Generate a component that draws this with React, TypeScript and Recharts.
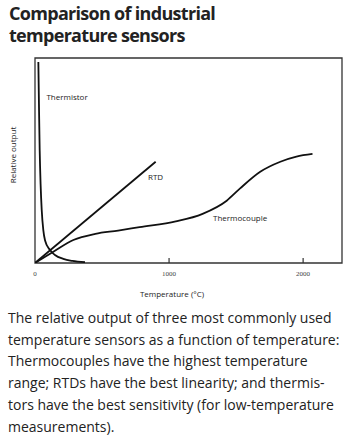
import React from 'react';
import { LineChart, Line, XAxis, YAxis, ReferenceArea, ReferenceDot } from 'recharts';

// temperature (°C) / relative output (0-100)
const thermistor = [
  { t: 25, v: 98 }, { t: 30, v: 75 }, { t: 35, v: 55 }, { t: 42, v: 38 },
  { t: 50, v: 26 }, { t: 62, v: 16 }, { t: 75, v: 11 }, { t: 112, v: 6.3 },
  { t: 149, v: 3.9 }, { t: 211, v: 2 }, { t: 279, v: 1 }, { t: 373, v: 0.4 },
];

const rtd = [
  { t: 0, v: 0 }, { t: 900, v: 49.4 },
];

const thermocouple = [
  { t: 0, v: 0 }, { t: 137, v: 5.5 }, { t: 286, v: 11.2 }, { t: 450, v: 14.2 },
  { t: 620, v: 15.8 }, { t: 780, v: 17.5 }, { t: 1050, v: 20.3 }, { t: 1250, v: 24 },
  { t: 1430, v: 30.4 }, { t: 1530, v: 36.4 }, { t: 1680, v: 44.5 }, { t: 1830, v: 49.4 },
  { t: 1950, v: 51.9 }, { t: 2070, v: 53.2 },
];

const xTicks = [0, 1000, 2000];
const xMax = 2290;

const curveLabels = [
  { name: 'Thermistor', t: 239, v: 81 },
  { name: 'RTD', t: 899, v: 42 },
  { name: 'Thermocouple', t: 1530, v: 22 },
];

const sans = '"Open Sans", "Noto Sans", sans-serif';

const TempTick = (props: any) => {
  const { x, y, payload } = props;
  return (
    <g>
      {payload.value !== 0 && <line x1={x} x2={x} y1={y} y2={y - 5} stroke="#333" strokeWidth={1.2} />}
      <text x={x} y={y + 13} textAnchor="middle" fontSize={7} fontFamily='"Liberation Serif", serif' fill="#444">
        {payload.value}
      </text>
    </g>
  );
};

const App: React.FC = () => {
  return (
    <div style={{ position: 'absolute', left: 0, top: 0, width: 350, height: 439, background: '#fff', fontFamily: sans }}>
      <div style={{ position: 'absolute', left: 9, top: 2, fontSize: 18, fontWeight: 700, lineHeight: '22px', color: '#222', letterSpacing: -0.7 }}>
        Comparison of industrial<br />temperature sensors
      </div>

      <div style={{ position: 'absolute', left: 0, top: 0 }}>
        <LineChart width={350} height={300} margin={{ top: 58, right: 8, bottom: 0, left: 35 }}>
          <XAxis
            type="number"
            dataKey="t"
            domain={[0, xMax]}
            ticks={xTicks}
            allowDataOverflow
            axisLine={false}
            tickLine={false}
            tickSize={0}
            tickMargin={0}
            height={37}
            tick={<TempTick />}
          />
          <YAxis type="number" domain={[0, 100]} hide allowDataOverflow />
          <ReferenceArea x1={0} x2={xMax} y1={0} y2={100} fill="none" stroke="#333" strokeWidth={1.3} />
          <Line data={thermistor} dataKey="v" type="monotone" stroke="#111" strokeWidth={1.8} dot={false} isAnimationActive={false} />
          <Line data={rtd} dataKey="v" type="linear" stroke="#111" strokeWidth={1.8} dot={false} isAnimationActive={false} />
          <Line data={thermocouple} dataKey="v" type="monotone" stroke="#111" strokeWidth={1.8} dot={false} isAnimationActive={false} />
          {curveLabels.map((c) => (
            <ReferenceDot
              key={c.name}
              x={c.t}
              y={c.v}
              r={0}
              stroke="none"
              label={{ value: c.name, position: 'center', fontSize: 8, fill: '#222', fontFamily: sans }}
            />
          ))}
        </LineChart>
      </div>

      <div style={{ position: 'absolute', left: 172, top: 288, fontSize: 8, color: '#222', whiteSpace: 'nowrap', transform: 'translateX(-50%)' }}>
        Temperature (°C)
      </div>
      <div style={{ position: 'absolute', left: 12, top: 155, fontSize: 8, color: '#222', whiteSpace: 'nowrap', transform: 'translate(-50%, -50%) rotate(-90deg)' }}>
        Relative output
      </div>

      <div style={{ position: 'absolute', left: 8, top: 307, width: 340, fontSize: 14, lineHeight: '21.7px', color: '#222' }}>
        The relative output of three most commonly used<br />
        temperature sensors as a function of temperature:<br />
        Thermocouples have the highest temperature<br />
        range; RTDs have the best linearity; and thermis-<br />
        tors have the best sensitivity (for low-temperature<br />
        measurements).
      </div>
    </div>
  );
};

export default App;
